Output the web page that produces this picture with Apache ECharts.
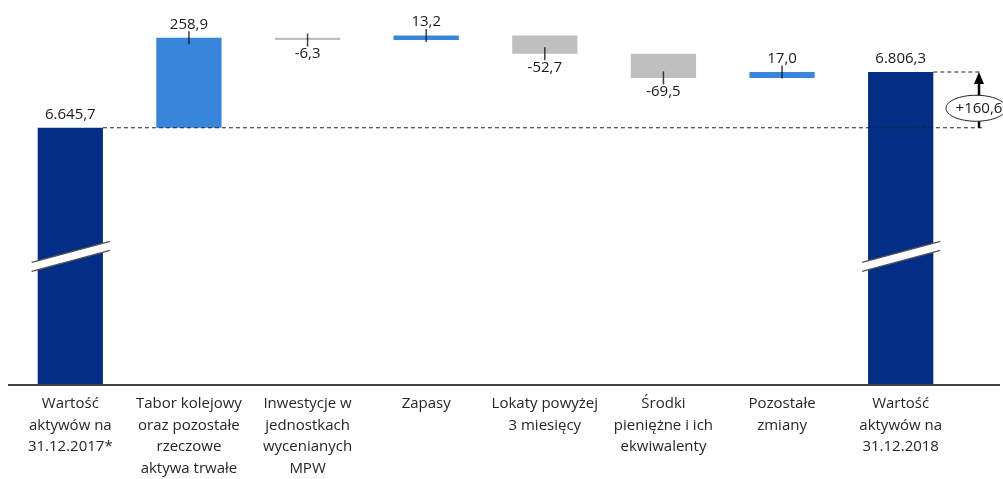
<!DOCTYPE html>
<html>
<head>
<meta charset="utf-8">
<script src="https://cdn.jsdelivr.net/npm/echarts@6/dist/echarts.min.js"></script>
<style>
    html, body { margin: 0; padding: 0; background: #fff; overflow: hidden; }
    #box { width: 1003px; height: 479px; }
</style>
</head>
<body>
<div id="box"></div>
<script>
const categories = [
    'Wartość\naktywów na\n31.12.2017*',
    'Tabor kolejowy\noraz pozostałe\nrzeczowe\naktywa trwałe',
    'Inwestycje w\njednostkach\nwycenianych\nMPW',
    'Zapasy',
    'Lokaty powyżej\n3 miesięcy',
    'Środki\npieniężne i ich\nekwiwalenty',
    'Pozostałe\nzmiany',
    'Wartość\naktywów na\n31.12.2018'
];
const deltas = [6645.7, 258.9, -6.3, 13.2, -52.7, -69.5, 17.0, 6806.3];
const isTotal = [true, false, false, false, false, false, false, true];

const yMin = 5905, yMax = 7005;
const colors = { total: '#042e86', up: '#3886dc', down: '#bfbfbf' };
const font = '"Open Sans", sans-serif';

function fmt(v, sign) {
    const s = Math.abs(v).toFixed(1).split('.');
    const int = s[0].replace(/\B(?=(\d{3})+(?!\d))/g, '.');
    return (v < 0 ? '-' : (sign ? '+' : '')) + int + ',' + s[1];
}

// podstawy (niewidoczne) i wysokości słupków
const base = [], height = [], edge = [];
let run = 0;
deltas.forEach((d, i) => {
    if (isTotal[i]) {
        base.push(0); height.push(d); edge.push('-'); run = d;
    } else if (d >= 0) {
        base.push(run); height.push(d); run += d; edge.push(run);
    } else {
        run += d; base.push(run); height.push(-d); edge.push(run);
    }
});

const chart = echarts.init(document.getElementById('box'));

chart.setOption({
    animation: false,
    grid: { left: 11, right: 43, top: 3, bottom: 86, containLabel: false },
    xAxis: {
        type: 'category',
        data: categories,
        axisTick: { show: false },
        axisLine: { lineStyle: { color: '#404040', width: 2 } },
        axisLabel: {
            interval: 0,
            margin: 8,
            color: '#262626',
            fontSize: 15,
            lineHeight: 21.5,
            fontFamily: font
        }
    },
    yAxis: { type: 'value', min: yMin, max: yMax, show: false },
    series: [
        {
            name: 'base',
            type: 'bar',
            stack: 'w',
            silent: true,
            barWidth: '55%',
            itemStyle: { color: 'transparent' },
            data: base
        },
        {
            name: 'value',
            type: 'bar',
            stack: 'w',
            barWidth: '55%',
            data: height.map((h, i) => ({
                value: h,
                itemStyle: {
                    color: isTotal[i] ? colors.total : (deltas[i] >= 0 ? colors.up : colors.down)
                },
                label: {
                    show: true,
                    position: (!isTotal[i] && deltas[i] < 0) ? 'bottom' : 'top',
                    distance: 6,
                    formatter: fmt(deltas[i]),
                    color: '#1a1a1a',
                    fontSize: 15,
                    fontFamily: font
                }
            }))
        },
        {
            name: 'tick',
            type: 'scatter',
            silent: true,
            symbol: 'rect',
            symbolSize: [1.5, 13],
            itemStyle: { color: '#111' },
            z: 5,
            data: edge
        }
    ]
});

// elementy dodatkowe: przerwy osi, linie przerywane, strzałka
const p = (i, v) => chart.convertToPixel({ gridIndex: 0 }, [i, v]);
const last = deltas.length - 1;
const band = p(1, yMin)[0] - p(0, yMin)[0];
const half = band * 0.55 / 2;
const yAxisPx = p(0, yMin)[1];
const yFirst = p(0, deltas[0])[1];
const yLast = p(last, deltas[last])[1];
const yBreak = (yFirst + yAxisPx) / 2;
const arrowX = 979;

const graphics = [];

[0, last].forEach(i => {
    const cx = p(i, yMin)[0];
    const xl = cx - half - 6, xr = cx + half + 7;
    const yl = yBreak + 10.5, yr = yBreak - 10.5;
    graphics.push({
        type: 'polygon', z: 10,
        shape: { points: [[xl, yl - 4.5], [xr, yr - 4.5], [xr, yr + 4.5], [xl, yl + 4.5]] },
        style: { fill: '#fff' }
    });
    graphics.push({
        type: 'line', z: 11,
        shape: { x1: xl, y1: yl - 4.5, x2: xr, y2: yr - 4.5 },
        style: { stroke: '#555', lineWidth: 1.5 }
    });
    graphics.push({
        type: 'line', z: 11,
        shape: { x1: xl, y1: yl + 4.5, x2: xr, y2: yr + 4.5 },
        style: { stroke: '#555', lineWidth: 1.5 }
    });
});

// przedłużenie osi
graphics.push({
    type: 'line', z: 5,
    shape: { x1: 8, y1: yAxisPx, x2: 1000, y2: yAxisPx },
    style: { stroke: '#404040', lineWidth: 2 }
});

graphics.push({
    type: 'line', z: 12,
    shape: { x1: p(0, yMin)[0] + half, y1: yFirst, x2: 982, y2: yFirst },
    style: { stroke: '#222', lineWidth: 1, lineDash: [4, 3] }
});
graphics.push({
    type: 'line', z: 12,
    shape: { x1: p(last, yMin)[0] + half, y1: yLast, x2: 982, y2: yLast },
    style: { stroke: '#222', lineWidth: 1, lineDash: [4, 3] }
});

graphics.push({
    type: 'line', z: 12,
    shape: { x1: arrowX, y1: yFirst, x2: arrowX, y2: yLast + 10 },
    style: { stroke: '#000', lineWidth: 2.5 }
});
graphics.push({
    type: 'polygon', z: 12,
    shape: { points: [[arrowX - 5, yLast + 12], [arrowX + 5, yLast + 12], [arrowX, yLast]] },
    style: { fill: '#000' }
});

const eCy = yFirst - 0.35 * (yFirst - yLast);
graphics.push({
    type: 'ellipse', z: 13,
    shape: { cx: 976, cy: eCy, rx: 30, ry: 13 },
    style: { fill: '#fff', stroke: '#222', lineWidth: 1 }
});
graphics.push({
    type: 'text', z: 14,
    style: {
        text: fmt(deltas[last] - deltas[0], true),
        x: 979, y: eCy,
        align: 'center', verticalAlign: 'middle',
        fill: '#1a1a1a',
        font: '15px ' + font
    }
});

chart.setOption({ graphic: graphics });
</script>
</body>
</html>
